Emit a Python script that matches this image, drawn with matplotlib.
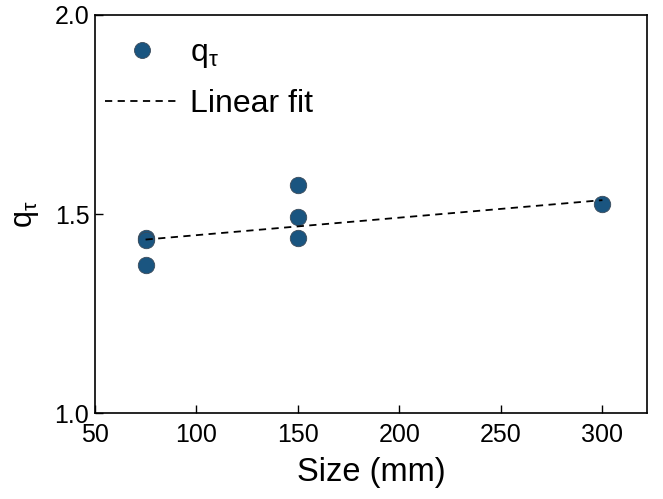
import matplotlib
matplotlib.use("Agg")
import matplotlib.pyplot as plt
from matplotlib.lines import Line2D

plt.rcParams['font.family'] = ['Liberation Sans', 'DejaVu Sans']
plt.rcParams['mathtext.fontset'] = 'custom'
plt.rcParams['mathtext.rm'] = 'Liberation Sans'
plt.rcParams['mathtext.it'] = 'Liberation Sans'

size_mm = [75, 75, 75, 150, 150, 150, 300]
q_tau = [1.44, 1.435, 1.372, 1.573, 1.492, 1.440, 1.526]
fit_x = [75, 300]
fit_y = [1.436, 1.535]
x_ticks = [50, 100, 150, 200, 250, 300]
y_ticks = [1.0, 1.5, 2.0]

fig = plt.figure(figsize=(6.63, 4.99), dpi=100)
ax = fig.add_axes([0.143, 0.172, 0.833, 0.798])

ax.scatter(size_mm, q_tau, s=140, color='#1a5580', edgecolors='#3a4a5a', linewidths=0.6, zorder=3)
ax.plot(fit_x, fit_y, linestyle=(0, (4, 3)), color='black', linewidth=1.3, zorder=4)

ax.set_xlim(50, 322)
ax.set_ylim(1.0, 2.0)
ax.set_xticks(x_ticks)
ax.set_yticks(y_ticks)
ax.set_yticklabels(['1.0', '1.5', '2.0'])
ax.tick_params(direction='in', labelsize=18, length=6, width=1)
ax.tick_params(axis='x', pad=7)
ax.tick_params(axis='y', pad=4)
for s in ax.spines.values():
    s.set_linewidth(1.2)

ax.set_xlabel('Size (mm)', fontsize=23.5, labelpad=7)
ax.set_ylabel(r'q$_\tau$', fontsize=22, labelpad=10)

handles = [Line2D([], [], marker='o', linestyle='none', markersize=11.5, color='#1a5580',
                  markeredgecolor='#3a4a5a', markeredgewidth=0.6),
           Line2D([], [], linestyle=(0, (4, 3)), color='black', linewidth=1.3)]
ax.legend(handles, [r'q$_\tau$', 'Linear fit'], loc='upper left', frameon=False, fontsize=23,
          handlelength=2.3, handletextpad=0.37, borderaxespad=0.0, labelspacing=0.6,
          bbox_to_anchor=(-0.005, 0.975))

fig.savefig('out.png', dpi=100)
